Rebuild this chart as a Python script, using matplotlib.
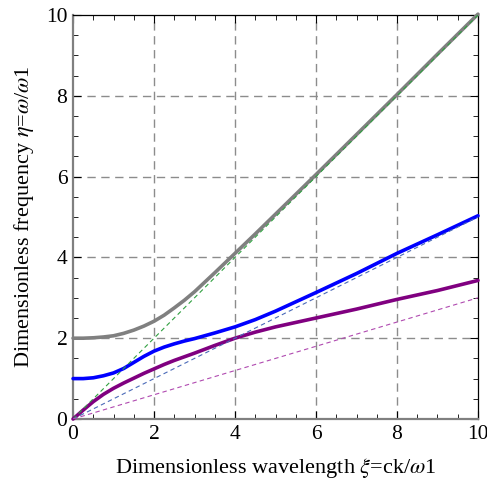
import matplotlib
matplotlib.use("Agg")
import matplotlib.pyplot as plt
from matplotlib.ticker import MultipleLocator

# values
xi = [0, 0.25, 0.5, 0.75, 1, 1.25, 1.5, 1.75, 2, 2.25, 2.5, 2.75, 3, 3.5, 4, 4.5, 5, 5.5, 6, 7, 8, 9, 10]
eta_gray = [2.0, 2.0, 2.01, 2.03, 2.06, 2.12, 2.2, 2.3, 2.42, 2.57, 2.75, 2.94, 3.15, 3.62, 4.1,
            4.58, 5.07, 5.56, 6.05, 7.04, 8.03, 9.03, 10.02]
eta_blue = [1.0, 1.0, 1.02, 1.07, 1.14, 1.25, 1.4, 1.55, 1.68, 1.78, 1.86, 1.93, 1.99, 2.13, 2.28,
            2.46, 2.67, 2.9, 3.13, 3.6, 4.1, 4.56, 5.03]
eta_purple = [0.0, 0.22, 0.43, 0.61, 0.76, 0.89, 1.01, 1.13, 1.24, 1.35, 1.45, 1.54, 1.63, 1.82, 2.0,
              2.15, 2.28, 2.39, 2.5, 2.72, 2.96, 3.18, 3.43]

# asymptotes
xi_line = [0, 10]
asym_green = [0, 10]
asym_blue = [0, 5]
asym_purple = [0, 3]

plt.rcParams['font.family'] = ['Liberation Serif', 'DejaVu Serif']
plt.rcParams['mathtext.fontset'] = 'stix'

fig = plt.figure(figsize=(4.87, 4.83), dpi=100)
ax = fig.add_axes([0.150, 0.1325, 0.8315, 0.8365])

# grid
for v in [2, 4, 6, 8]:
    ax.axvline(v, color='#8c8c8c', lw=1, dashes=(6, 4), zorder=1)
    ax.axhline(v, color='#8c8c8c', lw=1, dashes=(6, 4), zorder=1)

ax.plot(xi, eta_gray, color='#808080', lw=2.6, solid_capstyle='round', zorder=3, clip_on=False)
ax.plot(xi, eta_blue, color='#0000ff', lw=2.6, solid_capstyle='round', zorder=3, clip_on=False)
ax.plot(xi, eta_purple, color='#800080', lw=2.6, solid_capstyle='round', zorder=3, clip_on=False)

ax.plot(xi_line, asym_green, color='#30a040', lw=0.8, dashes=(4, 3), zorder=4)
ax.plot(xi_line, asym_blue, color='#4a6ab8', lw=0.8, dashes=(4, 3), zorder=4)
ax.plot(xi_line, asym_purple, color='#b04ab0', lw=0.8, dashes=(4, 3), zorder=4)

ax.set_xlim(0, 10)
ax.set_ylim(0, 10)
ax.xaxis.set_major_locator(MultipleLocator(2))
ax.yaxis.set_major_locator(MultipleLocator(2))
ax.xaxis.set_minor_locator(MultipleLocator(0.5))
ax.yaxis.set_minor_locator(MultipleLocator(0.5))
ax.tick_params(which='both', direction='in', top=True, right=True, labelsize=15.5, pad=4)
ax.tick_params(which='major', length=6, width=0.8)
ax.tick_params(which='minor', length=3.5, width=0.6)

ax.spines['left'].set_color('#808080')
ax.spines['bottom'].set_color('#808080')
ax.spines['left'].set_linewidth(1.6)
ax.spines['bottom'].set_linewidth(1.6)
ax.spines['top'].set_linewidth(0.9)
ax.spines['right'].set_linewidth(0.9)

ax.set_xlabel(r'Dimensionless wavelength $\xi$=ck/$\omega$1', fontsize=16, labelpad=9)
ax.set_ylabel(r'Dimensionless frequency $\eta$=$\omega$/$\omega$1', fontsize=16, labelpad=7)

fig.savefig('out.png', dpi=100)
